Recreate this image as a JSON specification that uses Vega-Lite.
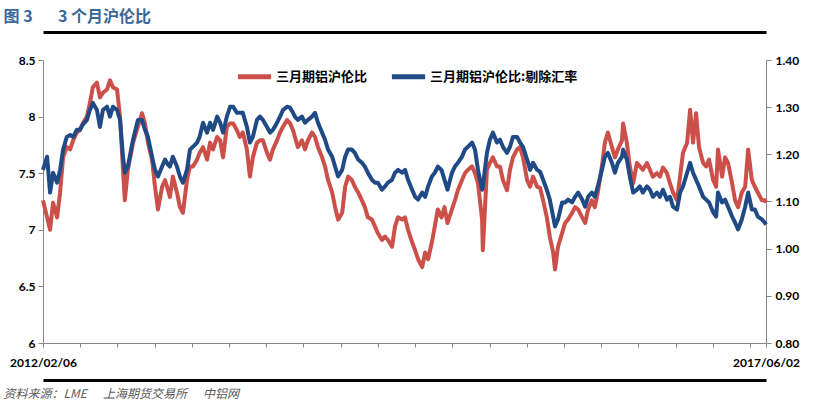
{
  "$schema": "https://vega.github.io/schema/vega-lite/v6.json",
  "width": 723,
  "height": 283,
  "autosize": {"type": "none"},
  "padding": {"left": 43, "top": 60, "right": 49, "bottom": 60},
  "background": "white",
  "config": {
    "view": {"stroke": null},
    "font": "Lato",
    "axis": {"grid": false, "labelFont": "Lato", "labelFontWeight": "bold", "labelFontSize": 12, "labelColor": "#000000", "domainColor": "#868686", "tickColor": "#868686", "domainWidth": 1, "tickWidth": 1, "tickSize": 5}
  },
  "data": {"values": [
    {"d":"2012-02-06","a":7.26,"b":1.167},{"d":"2012-02-17","a":7.11,"b":1.195},{"d":"2012-02-25","a":7.00,"b":1.119},{"d":"2012-03-04","a":7.24,"b":1.161},{"d":"2012-03-15","a":7.11,"b":1.140},{"d":"2012-03-23","a":7.33,"b":1.167},{"d":"2012-03-31","a":7.64,"b":1.210},{"d":"2012-04-10","a":7.73,"b":1.237},{"d":"2012-04-19","a":7.71,"b":1.241},{"d":"2012-04-27","a":7.79,"b":1.237},
    {"d":"2012-05-07","a":7.86,"b":1.252},{"d":"2012-05-15","a":7.88,"b":1.252},{"d":"2012-05-23","a":7.94,"b":1.263},{"d":"2012-06-03","a":8.00,"b":1.273},{"d":"2012-06-11","a":8.12,"b":1.294},{"d":"2012-06-19","a":8.26,"b":1.309},{"d":"2012-06-30","a":8.30,"b":1.294},{"d":"2012-07-08","a":8.17,"b":1.258},{"d":"2012-07-16","a":8.21,"b":1.294},{"d":"2012-07-27","a":8.24,"b":1.301},
    {"d":"2012-08-04","a":8.32,"b":1.280},{"d":"2012-08-12","a":8.26,"b":1.301},{"d":"2012-08-23","a":8.24,"b":1.294},{"d":"2012-08-31","a":8.00,"b":1.273},{"d":"2012-09-08","a":7.53,"b":1.195},{"d":"2012-09-13","a":7.26,"b":1.161},{"d":"2012-09-21","a":7.53,"b":1.174},{"d":"2012-10-05","a":7.77,"b":1.231},{"d":"2012-10-18","a":7.91,"b":1.273},{"d":"2012-10-29","a":8.03,"b":1.273},
    {"d":"2012-11-06","a":7.94,"b":1.252},{"d":"2012-11-14","a":7.77,"b":1.237},{"d":"2012-11-25","a":7.62,"b":1.195},{"d":"2012-12-03","a":7.38,"b":1.167},{"d":"2012-12-11","a":7.18,"b":1.153},{"d":"2012-12-22","a":7.38,"b":1.174},{"d":"2012-12-30","a":7.44,"b":1.189},{"d":"2013-01-07","a":7.35,"b":1.178},{"d":"2013-01-12","a":7.29,"b":1.174},{"d":"2013-01-20","a":7.47,"b":1.195},
    {"d":"2013-01-31","a":7.33,"b":1.174},{"d":"2013-02-08","a":7.20,"b":1.153},{"d":"2013-02-16","a":7.15,"b":1.140},{"d":"2013-02-27","a":7.44,"b":1.167},{"d":"2013-03-07","a":7.56,"b":1.210},{"d":"2013-03-15","a":7.56,"b":1.216},{"d":"2013-03-26","a":7.62,"b":1.225},{"d":"2013-04-02","a":7.68,"b":1.237},{"d":"2013-04-11","a":7.73,"b":1.267},{"d":"2013-04-22","a":7.62,"b":1.246},
    {"d":"2013-04-30","a":7.77,"b":1.267},{"d":"2013-05-08","a":7.71,"b":1.252},{"d":"2013-05-19","a":7.82,"b":1.280},{"d":"2013-05-27","a":7.79,"b":1.267},{"d":"2013-06-04","a":7.64,"b":1.246},{"d":"2013-06-14","a":7.91,"b":1.280},{"d":"2013-06-23","a":7.94,"b":1.301},{"d":"2013-07-01","a":7.94,"b":1.301},{"d":"2013-07-11","a":7.88,"b":1.288},{"d":"2013-07-19","a":7.82,"b":1.288},
    {"d":"2013-07-27","a":7.86,"b":1.288},{"d":"2013-08-07","a":7.71,"b":1.258},{"d":"2013-08-15","a":7.47,"b":1.225},{"d":"2013-08-23","a":7.64,"b":1.237},{"d":"2013-09-03","a":7.77,"b":1.273},{"d":"2013-09-11","a":7.79,"b":1.280},{"d":"2013-09-19","a":7.79,"b":1.273},{"d":"2013-09-30","a":7.68,"b":1.258},{"d":"2013-10-08","a":7.62,"b":1.246},{"d":"2013-10-16","a":7.71,"b":1.252},
    {"d":"2013-10-27","a":7.79,"b":1.267},{"d":"2013-11-04","a":7.86,"b":1.280},{"d":"2013-11-12","a":7.91,"b":1.294},{"d":"2013-11-23","a":7.97,"b":1.301},{"d":"2013-12-01","a":7.94,"b":1.299},{"d":"2013-12-09","a":7.88,"b":1.288},{"d":"2013-12-14","a":7.82,"b":1.280},{"d":"2013-12-22","a":7.73,"b":1.273},{"d":"2014-01-02","a":7.79,"b":1.280},{"d":"2014-01-10","a":7.71,"b":1.267},
    {"d":"2014-01-18","a":7.79,"b":1.273},{"d":"2014-01-29","a":7.86,"b":1.280},{"d":"2014-02-06","a":7.82,"b":1.288},{"d":"2014-02-14","a":7.73,"b":1.267},{"d":"2014-02-25","a":7.64,"b":1.246},{"d":"2014-03-05","a":7.56,"b":1.231},{"d":"2014-03-13","a":7.44,"b":1.210},{"d":"2014-03-24","a":7.33,"b":1.195},{"d":"2014-04-01","a":7.20,"b":1.174},{"d":"2014-04-09","a":7.09,"b":1.153},
    {"d":"2014-04-20","a":7.15,"b":1.167},{"d":"2014-04-28","a":7.38,"b":1.195},{"d":"2014-05-06","a":7.47,"b":1.210},{"d":"2014-05-16","a":7.44,"b":1.210},{"d":"2014-05-24","a":7.38,"b":1.203},{"d":"2014-06-02","a":7.33,"b":1.189},{"d":"2014-06-12","a":7.26,"b":1.182},{"d":"2014-06-20","a":7.20,"b":1.174},{"d":"2014-06-28","a":7.11,"b":1.161},{"d":"2014-07-09","a":7.09,"b":1.146},
    {"d":"2014-07-17","a":7.03,"b":1.140},{"d":"2014-07-25","a":6.97,"b":1.140},{"d":"2014-08-05","a":6.91,"b":1.125},{"d":"2014-08-13","a":6.94,"b":1.132},{"d":"2014-08-21","a":6.91,"b":1.140},{"d":"2014-09-01","a":6.85,"b":1.146},{"d":"2014-09-09","a":7.03,"b":1.161},{"d":"2014-09-17","a":7.11,"b":1.167},{"d":"2014-09-28","a":7.09,"b":1.161},{"d":"2014-10-06","a":7.11,"b":1.167},
    {"d":"2014-10-14","a":7.00,"b":1.146},{"d":"2014-10-25","a":6.89,"b":1.125},{"d":"2014-11-02","a":6.82,"b":1.110},{"d":"2014-11-10","a":6.74,"b":1.104},{"d":"2014-11-21","a":6.67,"b":1.119},{"d":"2014-11-29","a":6.80,"b":1.110},{"d":"2014-12-07","a":6.74,"b":1.132},{"d":"2014-12-17","a":6.89,"b":1.153},{"d":"2014-12-25","a":7.03,"b":1.161},{"d":"2015-01-02","a":7.18,"b":1.174},
    {"d":"2015-01-12","a":7.11,"b":1.167},{"d":"2015-01-20","a":7.20,"b":1.146},{"d":"2015-01-28","a":7.06,"b":1.125},{"d":"2015-02-09","a":7.18,"b":1.161},{"d":"2015-02-17","a":7.26,"b":1.174},{"d":"2015-02-25","a":7.35,"b":1.182},{"d":"2015-03-08","a":7.44,"b":1.195},{"d":"2015-03-16","a":7.50,"b":1.210},{"d":"2015-03-24","a":7.53,"b":1.216},{"d":"2015-04-04","a":7.56,"b":1.225},
    {"d":"2015-04-12","a":7.50,"b":1.210},{"d":"2015-04-20","a":7.41,"b":1.167},{"d":"2015-05-01","a":7.09,"b":1.125},{"d":"2015-05-03","a":6.82,"b":1.132},{"d":"2015-05-14","a":7.53,"b":1.203},{"d":"2015-05-22","a":7.59,"b":1.231},{"d":"2015-05-30","a":7.64,"b":1.246},{"d":"2015-06-10","a":7.56,"b":1.225},{"d":"2015-06-18","a":7.56,"b":1.231},{"d":"2015-06-26","a":7.44,"b":1.216},
    {"d":"2015-07-07","a":7.35,"b":1.203},{"d":"2015-07-15","a":7.53,"b":1.216},{"d":"2015-07-23","a":7.64,"b":1.237},{"d":"2015-08-03","a":7.71,"b":1.237},{"d":"2015-08-11","a":7.73,"b":1.225},{"d":"2015-08-19","a":7.64,"b":1.216},{"d":"2015-08-30","a":7.44,"b":1.189},{"d":"2015-09-07","a":7.38,"b":1.167},{"d":"2015-09-15","a":7.47,"b":1.182},{"d":"2015-09-26","a":7.38,"b":1.167},
    {"d":"2015-10-04","a":7.37,"b":1.163},{"d":"2015-10-12","a":7.26,"b":1.146},{"d":"2015-10-22","a":7.11,"b":1.125},{"d":"2015-10-30","a":6.94,"b":1.104},{"d":"2015-11-08","a":6.80,"b":1.068},{"d":"2015-11-13","a":6.65,"b":1.047},{"d":"2015-11-21","a":6.85,"b":1.062},{"d":"2015-12-02","a":6.97,"b":1.098},{"d":"2015-12-10","a":7.06,"b":1.098},{"d":"2015-12-18","a":7.09,"b":1.104},
    {"d":"2015-12-29","a":7.15,"b":1.098},{"d":"2016-01-06","a":7.20,"b":1.110},{"d":"2016-01-14","a":7.18,"b":1.119},{"d":"2016-01-25","a":7.11,"b":1.104},{"d":"2016-02-02","a":7.06,"b":1.089},{"d":"2016-02-10","a":7.18,"b":1.110},{"d":"2016-02-20","a":7.26,"b":1.119},{"d":"2016-02-28","a":7.20,"b":1.110},{"d":"2016-03-07","a":7.33,"b":1.132},{"d":"2016-03-18","a":7.56,"b":1.167},
    {"d":"2016-03-26","a":7.77,"b":1.195},{"d":"2016-04-03","a":7.86,"b":1.203},{"d":"2016-04-14","a":7.73,"b":1.182},{"d":"2016-04-22","a":7.64,"b":1.161},{"d":"2016-04-30","a":7.71,"b":1.182},{"d":"2016-05-11","a":7.79,"b":1.195},{"d":"2016-05-14","a":7.94,"b":1.210},{"d":"2016-05-24","a":7.77,"b":1.189},{"d":"2016-06-01","a":7.56,"b":1.153},{"d":"2016-06-10","a":7.41,"b":1.119},
    {"d":"2016-06-20","a":7.59,"b":1.125},{"d":"2016-06-28","a":7.56,"b":1.132},{"d":"2016-07-06","a":7.53,"b":1.119},{"d":"2016-07-17","a":7.59,"b":1.132},{"d":"2016-07-25","a":7.53,"b":1.125},{"d":"2016-08-02","a":7.47,"b":1.110},{"d":"2016-08-13","a":7.50,"b":1.119},{"d":"2016-08-21","a":7.47,"b":1.110},{"d":"2016-08-29","a":7.55,"b":1.125},{"d":"2016-09-09","a":7.50,"b":1.104},
    {"d":"2016-09-17","a":7.41,"b":1.110},{"d":"2016-09-25","a":7.33,"b":1.089},{"d":"2016-10-06","a":7.26,"b":1.083},{"d":"2016-10-14","a":7.47,"b":1.119},{"d":"2016-10-22","a":7.68,"b":1.132},{"d":"2016-11-02","a":7.77,"b":1.161},{"d":"2016-11-10","a":8.06,"b":1.182},{"d":"2016-11-18","a":7.77,"b":1.161},{"d":"2016-11-26","a":8.03,"b":1.146},{"d":"2016-12-04","a":7.73,"b":1.132},
    {"d":"2016-12-15","a":7.59,"b":1.110},{"d":"2016-12-23","a":7.56,"b":1.104},{"d":"2016-12-31","a":7.62,"b":1.098},{"d":"2017-01-11","a":7.44,"b":1.077},{"d":"2017-01-19","a":7.38,"b":1.068},{"d":"2017-01-24","a":7.71,"b":1.119},{"d":"2017-02-04","a":7.47,"b":1.098},{"d":"2017-02-12","a":7.64,"b":1.104},{"d":"2017-02-20","a":7.59,"b":1.089},{"d":"2017-03-03","a":7.41,"b":1.068},
    {"d":"2017-03-11","a":7.26,"b":1.055},{"d":"2017-03-19","a":7.20,"b":1.041},{"d":"2017-03-29","a":7.33,"b":1.062},{"d":"2017-04-07","a":7.38,"b":1.089},{"d":"2017-04-15","a":7.71,"b":1.119},{"d":"2017-04-25","a":7.44,"b":1.083},{"d":"2017-05-03","a":7.38,"b":1.083},{"d":"2017-05-11","a":7.33,"b":1.068},{"d":"2017-05-22","a":7.26,"b":1.062},{"d":"2017-05-30","a":7.26,"b":1.055},
    {"d":"2017-06-02","a":7.24,"b":1.051}
  ]},
  "layer": [
    {
      "mark": {"type": "line", "strokeWidth": 4, "strokeJoin": "round"},
      "encoding": {
        "x": {"field": "d", "type": "temporal",
          "scale": {"domain": [{"year": 2012, "month": 2, "date": 6}, {"year": 2017, "month": 6, "date": 2}]},
          "axis": {"orient": "bottom", "title": null, "tickSize": 4, "labelPadding": 10, "labelOverlap": false, "labelBound": false, "labelFlush": false,
            "values": [{"year":2012,"month":2,"date":6},{"year":2012,"month":5,"date":16},{"year":2012,"month":8,"date":24},{"year":2012,"month":12,"date":2},{"year":2013,"month":3,"date":12},{"year":2013,"month":6,"date":20},{"year":2013,"month":9,"date":28},{"year":2014,"month":1,"date":6},{"year":2014,"month":4,"date":16},{"year":2014,"month":7,"date":25},{"year":2014,"month":11,"date":2},{"year":2015,"month":2,"date":10},{"year":2015,"month":5,"date":21},{"year":2015,"month":8,"date":29},{"year":2015,"month":12,"date":7},{"year":2016,"month":3,"date":16},{"year":2016,"month":6,"date":24},{"year":2016,"month":10,"date":2},{"year":2017,"month":1,"date":10},{"year":2017,"month":4,"date":20},{"year":2017,"month":6,"date":2}],
            "labelExpr": "((year(datum.value)==2012 && month(datum.value)==1) || (year(datum.value)==2017 && month(datum.value)==5)) ? timeFormat(datum.value, '%Y/%m/%d') : ''"}},
        "y": {"field": "a", "type": "quantitative",
          "scale": {"domain": [6, 8.5], "nice": false, "zero": false},
          "axis": {"orient": "left", "title": null, "values": [6, 6.5, 7, 7.5, 8, 8.5], "format": "~g", "labelPadding": 3}},
        "color": {"datum": "三月期铝沪伦比",
          "scale": {"domain": ["三月期铝沪伦比", "三月期铝沪伦比:剔除汇率"], "range": ["#cd4f4a", "#1f4a85"]},
          "legend": {"orient": "none", "legendX": 192, "legendY": -3, "direction": "horizontal", "title": null,
            "symbolType": "stroke", "symbolStrokeWidth": 5, "symbolSize": 1100, "labelFont": "Noto Sans CJK SC", "labelFontWeight": "bold", "labelFontSize": 13, "labelColor": "#000000", "columnPadding": 13, "labelOffset": 2}}
      }
    },
    {
      "mark": {"type": "line", "strokeWidth": 4, "strokeJoin": "round"},
      "encoding": {
        "x": {"field": "d", "type": "temporal",
          "axis": {"orient": "top", "offset": 28, "domainColor": "#000000", "domainWidth": 3, "ticks": false, "labels": false,
            "title": "图 3\u00a0\u00a0\u00a0\u00a0\u00a0\u00a0\u00a03 个月沪伦比", "titleFont": "Noto Sans CJK SC", "titleFontWeight": "bold", "titleFontSize": 16, "titleColor": "#3a6797",
            "titleAnchor": "start", "titleAlign": "left", "titleBaseline": "alphabetic", "titleX": -40, "titleY": -11, "titlePadding": 0}},
        "y": {"field": "b", "type": "quantitative",
          "scale": {"domain": [0.8, 1.4], "nice": false, "zero": false},
          "axis": {"orient": "right", "title": null, "values": [0.8, 0.9, 1.0, 1.1, 1.2, 1.3, 1.4], "format": ".2f", "labelPadding": 4}},
        "color": {"datum": "三月期铝沪伦比:剔除汇率"}
      }
    },
    {
      "mark": {"type": "line", "opacity": 0},
      "encoding": {
        "x": {"field": "d", "type": "temporal",
          "axis": {"orient": "bottom", "offset": 37, "domainColor": "#000000", "domainWidth": 3, "ticks": false, "labels": false,
            "title": "资料来源：LME\u00a0\u00a0\u00a0\u00a0\u00a0\u00a0上海期货交易所\u00a0\u00a0\u00a0\u00a0\u00a0\u00a0中铝网", "titleFont": "Noto Sans CJK SC", "titleFontWeight": "normal", "titleFontStyle": "italic", "titleFontSize": 12, "titleColor": "#595959",
            "titleAnchor": "start", "titleAlign": "left", "titleBaseline": "alphabetic", "titleX": -40, "titleY": 17, "titlePadding": 0}},
        "y": {"field": "a", "type": "quantitative", "scale": {"domain": [6, 8.5], "zero": false}, "axis": null}
      }
    }
  ],
  "resolve": {"scale": {"y": "independent"}, "axis": {"x": "independent"}}
}
